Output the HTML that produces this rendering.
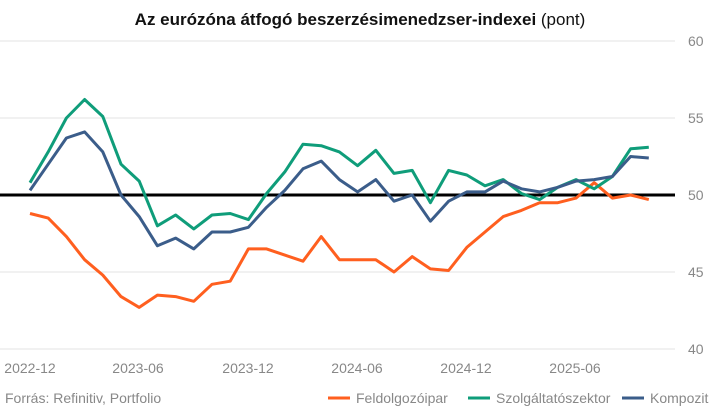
<!DOCTYPE html><html><head><meta charset="utf-8"><style>body{margin:0;background:#fff;font-family:"Liberation Sans",sans-serif}</style></head><body>
<svg id="s" width="720" height="415" xmlns="http://www.w3.org/2000/svg" font-family="Liberation Sans, sans-serif">
<text x="360" y="25" text-anchor="middle" font-size="17" fill="#111"><tspan font-weight="bold">Az eurózóna átfogó beszerzésimenedzser-indexei</tspan> (pont)</text>
<g stroke="#e3e3e3" stroke-width="1">
<line x1="0" x2="675" y1="41" y2="41"/><line x1="0" x2="675" y1="118" y2="118"/><line x1="0" x2="675" y1="272" y2="272"/><line x1="0" x2="675" y1="349" y2="349"/>
</g>
<g fill="#888" font-size="14">
<text x="688" y="46">60</text><text x="688" y="123">55</text><text x="688" y="200">50</text><text x="688" y="277">45</text><text x="688" y="354">40</text>
<text x="30" y="373" text-anchor="middle">2022-12</text><text x="138" y="373" text-anchor="middle">2023-06</text><text x="248" y="373" text-anchor="middle">2023-12</text><text x="357" y="373" text-anchor="middle">2024-06</text><text x="466" y="373" text-anchor="middle">2024-12</text><text x="575" y="373" text-anchor="middle">2025-06</text>
</g>
<line x1="0" x2="675" y1="195" y2="195" stroke="#000" stroke-width="3"/>
<g id="g" fill="none" stroke-width="3" stroke-linejoin="round"></g>
<text x="5" y="403" font-size="14" fill="#888">Forrás: Refinitiv, Portfolio</text>
<line x1="328" x2="350" y1="398" y2="398" stroke="#ff5f1f" stroke-width="3"/><text x="356" y="403" font-size="14" fill="#888">Feldolgozóipar</text>
<line x1="468" x2="490" y1="398" y2="398" stroke="#0f9d7a" stroke-width="3"/><text x="496" y="403" font-size="14" fill="#888">Szolgáltatószektor</text>
<line x1="622" x2="644" y1="398" y2="398" stroke="#3b5d8a" stroke-width="3"/><text x="650" y="403" font-size="14" fill="#888">Kompozit</text>
</svg>
<script>
var d={"#ff5f1f":[48.8,48.5,47.3,45.8,44.8,43.4,42.7,43.5,43.4,43.1,44.2,44.4,46.5,46.5,46.1,45.7,47.3,45.8,45.8,45.8,45.0,46.0,45.2,45.1,46.6,47.6,48.6,49.0,49.5,49.5,49.8,50.8,49.8,50.0,49.7],
"#0f9d7a":[50.8,52.8,55.0,56.2,55.1,52.0,50.9,48.0,48.7,47.8,48.7,48.8,48.4,50.1,51.5,53.3,53.2,52.8,51.9,52.9,51.4,51.6,49.5,51.6,51.3,50.6,51.0,50.1,49.7,50.5,51.0,50.4,51.2,53.0,53.1],
"#3b5d8a":[50.3,52.0,53.7,54.1,52.8,50.0,48.6,46.7,47.2,46.5,47.6,47.6,47.9,49.2,50.3,51.7,52.2,51.0,50.2,51.0,49.6,50.0,48.3,49.6,50.2,50.2,50.9,50.4,50.2,50.5,50.9,51.0,51.2,52.5,52.4]};
var g=document.getElementById('g');
for(var c in d){var p=d[c].map(function(v,i){return (30+i*18.2).toFixed(1)+','+(195-(v-50)*15.4).toFixed(1)}).join(' ');
var e=document.createElementNS('http://www.w3.org/2000/svg','polyline');e.setAttribute('points',p);e.setAttribute('stroke',c);g.appendChild(e);}
</script>
</body></html>
